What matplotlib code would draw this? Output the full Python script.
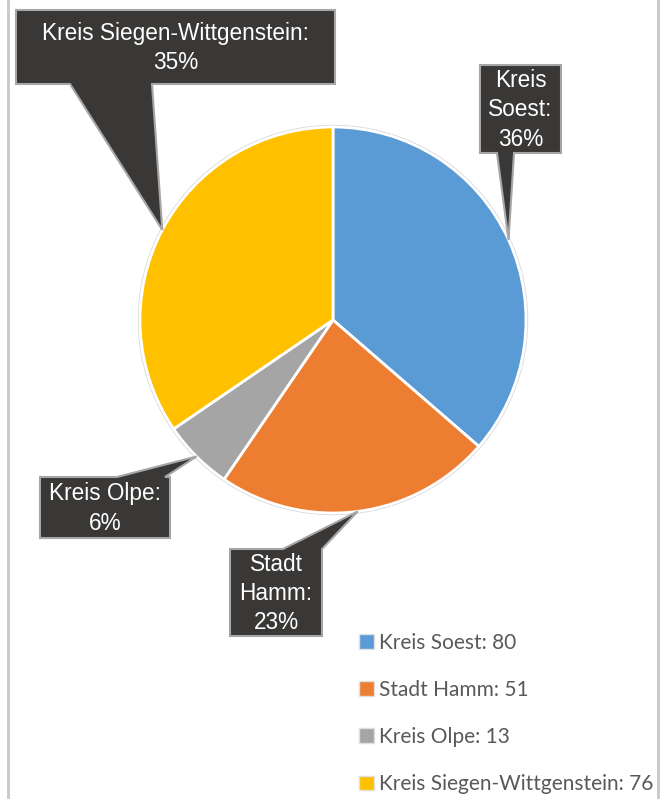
import matplotlib
matplotlib.use("Agg")
import matplotlib.pyplot as plt
import matplotlib.patches as mpatches
import numpy as np

labels = ["Kreis Soest", "Stadt Hamm", "Kreis Olpe", "Kreis Siegen-Wittgenstein"]
values = [80, 51, 13, 76]
colors = ["#5B9BD5", "#ED7D31", "#A5A5A5", "#FFC000"]
callout_text = ["Kreis\nSoest:\n36%", "Stadt\nHamm:\n23%", "Kreis Olpe:\n6%",
                "Kreis Siegen-Wittgenstein:\n35%"]

W, H = 670, 799
fig = plt.figure(figsize=(W / 100, H / 100), dpi=100)
ax = fig.add_axes([0, 0, 1, 1])

cx, cy, r = 333, 320, 193
wedges, _ = ax.pie(values, colors=colors, startangle=-90, counterclock=True,
                   center=(cx, cy), radius=r,
                   wedgeprops=dict(edgecolor="white", linewidth=2))
ax.add_patch(mpatches.Circle((cx, cy), r + 1.5, fill=False, edgecolor="#d9d9d9",
                             linewidth=1, zorder=0))

# callout boxes: (x0, y0, x1, y1), pointer base on edge (side, a, b)
boxes = [
    ((480, 65, 561, 153), ("bottom", 497, 514)),
    ((230, 549, 322, 636), ("top", 283, 322)),
    ((40, 477, 170, 538), ("top", 117, 165)),
    ((16, 10, 335, 84), ("bottom", 70, 152)),
]

for w, txt, (box, (side, a, b)) in zip(wedges, callout_text, boxes):
    mid = np.deg2rad((w.theta1 + w.theta2) / 2)
    tip = (cx + r * np.cos(mid), cy + r * np.sin(mid))
    x0, y0, x1, y1 = box
    if side == "bottom":
        pts = [(x0, y0), (x1, y0), (x1, y1), (b, y1), tip, (a, y1), (x0, y1)]
    else:
        pts = [(x0, y0), (a, y0), tip, (b, y0), (x1, y0), (x1, y1), (x0, y1)]
    ax.add_patch(mpatches.Polygon(pts, closed=True, facecolor="#3a3836",
                                  edgecolor="#a6a6a6", linewidth=1.5, zorder=5))
    ax.text((x0 + x1) / 2, (y0 + y1) / 2 + 1, txt, color="white", ha="center",
            va="center", fontsize=16.3, family="Liberation Sans",
            linespacing=1.36, zorder=6)

ax.set_xlim(0, W)
ax.set_ylim(H, 0)
ax.set_aspect("equal")
ax.axis("off")

# frame lines left and right
for x in (8, 658):
    ax.plot([x, x], [0, H], color="#c8c8c8", linewidth=2, clip_on=False)

handles = [mpatches.Patch(facecolor=c, edgecolor="#e0e0e0", linewidth=1) for c in colors]
leg_labels = [f"{l}: {v}" for l, v in zip(labels, values)]
fig.legend(handles, leg_labels, loc="upper left", bbox_to_anchor=(359 / W, 1 - 633 / H),
           frameon=False, prop=dict(family="Lato", size=15),
           labelcolor="#595959", handlelength=0.72, handleheight=0.72,
           handletextpad=0.25, labelspacing=1.3, borderpad=0, borderaxespad=0)

fig.savefig("out.png", dpi=100)
